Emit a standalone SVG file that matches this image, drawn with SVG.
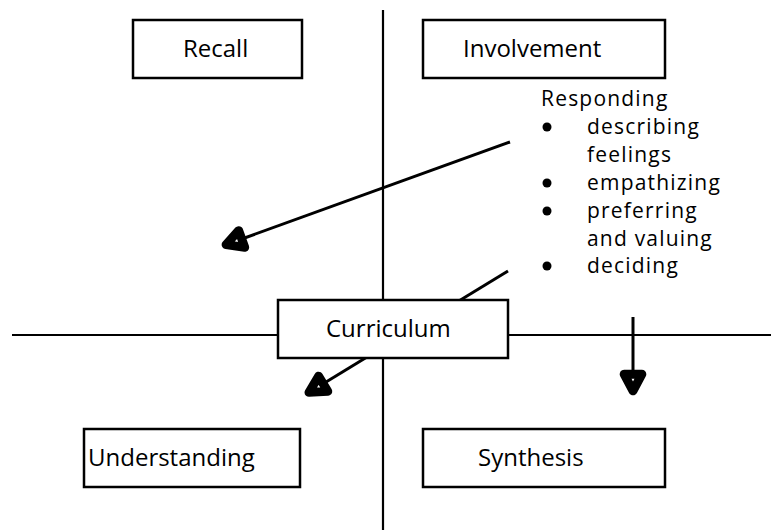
<svg xmlns="http://www.w3.org/2000/svg" width="771" height="530" viewBox="0 0 771 530">
<style>
.box{fill:#fff;stroke:#000;stroke-width:2.5}
.axis{stroke:#000;stroke-width:2.2;fill:none}
.arr{stroke:#000;stroke-width:3;fill:none;marker-end:url(#ah)}
text{font-family:"Open Sans","Noto Sans","Liberation Sans",sans-serif;font-size:24px;fill:#000}
.li{font-size:21px;letter-spacing:1.2px}
</style>
<defs>
<marker id="ah" markerUnits="userSpaceOnUse" markerWidth="40" markerHeight="40" viewBox="-6 -6 36 36" refX="20" refY="12" orient="auto">
<path d="M4,4 L19,12 L4,20 Z" fill="#fff" stroke="#000" stroke-width="8" stroke-linejoin="round"/>
</marker>
</defs>
<g id="axes">
<line class="axis" x1="383" y1="10" x2="383" y2="530"/>
<line class="axis" x1="12" y1="335" x2="771" y2="335"/>
</g>
<g id="connectors">
<line class="arr" x1="510" y1="142" x2="225" y2="245"/>
<line class="arr" x1="508" y1="271" x2="308" y2="393"/>
<line class="arr" x1="633" y1="317" x2="633" y2="392"/>
</g>
<g id="recall">
<rect class="box" x="133" y="20" width="169" height="58"/>
<text x="183" y="57">Recall</text>
</g>
<g id="involvement">
<rect class="box" x="423" y="20" width="242" height="58"/>
<text x="463" y="57">Involvement</text>
</g>
<g id="responding">
<text class="li" x="541" y="106">Responding</text>
<circle cx="547" cy="127" r="4.5"/>
<text class="li" x="587" y="134">describing</text>
<text class="li" x="587" y="162">feelings</text>
<circle cx="547" cy="183" r="4.5"/>
<text class="li" x="587" y="190">empathizing</text>
<circle cx="547" cy="211" r="4.5"/>
<text class="li" x="587" y="218">preferring</text>
<text class="li" x="587" y="246">and valuing</text>
<circle cx="547" cy="266" r="4.5"/>
<text class="li" x="587" y="273">deciding</text>
</g>
<g id="curriculum">
<rect class="box" x="278" y="300" width="230" height="58"/>
<text x="326" y="337">Curriculum</text>
</g>
<g id="understanding">
<rect class="box" x="84" y="429" width="216" height="58"/>
<text x="88" y="466">Understanding</text>
</g>
<g id="synthesis">
<rect class="box" x="423" y="429" width="242" height="58"/>
<text x="478" y="466">Synthesis</text>
</g>
</svg>
